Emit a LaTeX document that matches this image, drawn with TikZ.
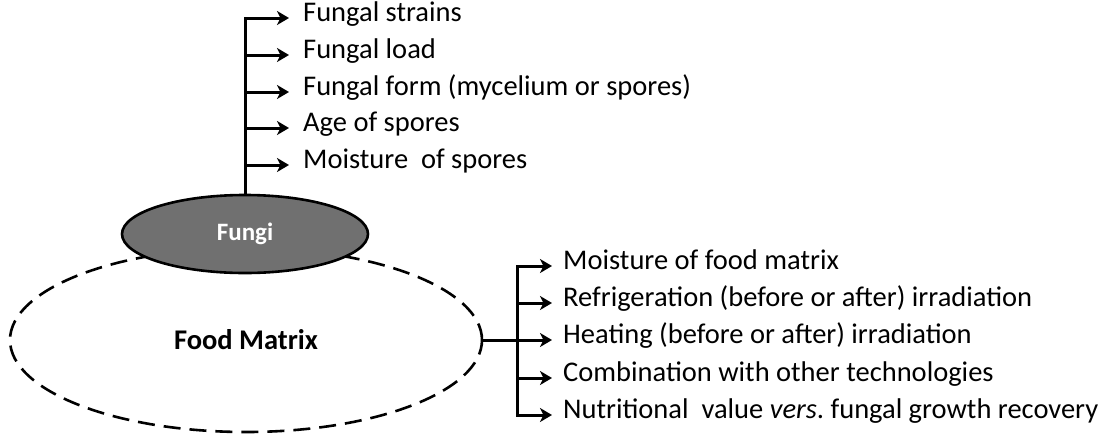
\documentclass[tikz,border=0pt]{standalone}
\usepackage{fontspec}
\setmainfont{Carlito}
\usetikzlibrary{arrows.meta,shapes.geometric}
\definecolor{fungigray}{RGB}{112,112,112}
\frenchspacing
\tikzset{
  conn/.style={line width=3pt, line join=miter, draw=black},
  arr/.style={conn, -{Stealth[length=12pt,width=14pt,inset=3.5pt]}},
  lbl/.style={anchor=west, inner sep=0pt, font=\fontsize{28.5}{32}\selectfont, text height=0.62em, text depth=0pt},
}
\begin{document}
\begin{tikzpicture}[x=1pt,y=-1pt]
\useasboundingbox (0,0) rectangle (1107,434);
% Food matrix ellipse
\node[ellipse, draw=black, line width=2.6pt, dash pattern=on 17pt off 9pt, minimum width=472pt, minimum height=184pt, inner sep=0pt,
      font=\bfseries\fontsize{28.5}{32}\selectfont] (food) at (246,340) {Food Matrix};
% Fungi ellipse
\node[ellipse, draw=black, line width=2.6pt, fill=fungigray, minimum width=246pt, minimum height=78pt, inner sep=0pt,
      text=white, font=\bfseries\fontsize{25}{28}\selectfont] (fungi) at (245,234) {Fungi};
% Fungi factors
\node[lbl] (f1) at (303,18) {Fungal strains};
\node[lbl] (f2) at (303,55) {Fungal load};
\node[lbl] (f3) at (303,92) {Fungal form (mycelium or spores)};
\node[lbl] (f4) at (303,128) {Age of spores};
\node[lbl] (f5) at (303,165) {Moisture\ \ of spores};
\draw[arr] (fungi.north) -- (fungi.north |- f1.west) -- ([xshift=-14pt]f1.west);
\foreach \n in {f2,f3,f4,f5}
  \draw[arr] (fungi.north |- \n.west) -- ([xshift=-14pt]\n.west);
% Food matrix factors
\node[lbl] (m1) at (563,266) {Moisture of food matrix};
\node[lbl] (m2) at (563,303) {Refrigeration (before or after) irradiation};
\node[lbl] (m3) at (563,340) {Heating (before or after) irradiation};
\node[lbl] (m4) at (563,378) {Combination with other technologies};
\node[lbl] (m5) at (563,415) {Nutritional\ \ value \textit{vers}. fungal growth recovery};
\coordinate (br) at (517,340);
\draw[conn] (food.east) -- (br);
\draw[arr] (br) -- (br |- m1.west) -- ([xshift=-11pt]m1.west);
\draw[arr] (br) -- (br |- m5.west) -- ([xshift=-11pt]m5.west);
\foreach \n in {m2,m3,m4}
  \draw[arr] (br |- \n.west) -- ([xshift=-11pt]\n.west);
\end{tikzpicture}
\end{document}
